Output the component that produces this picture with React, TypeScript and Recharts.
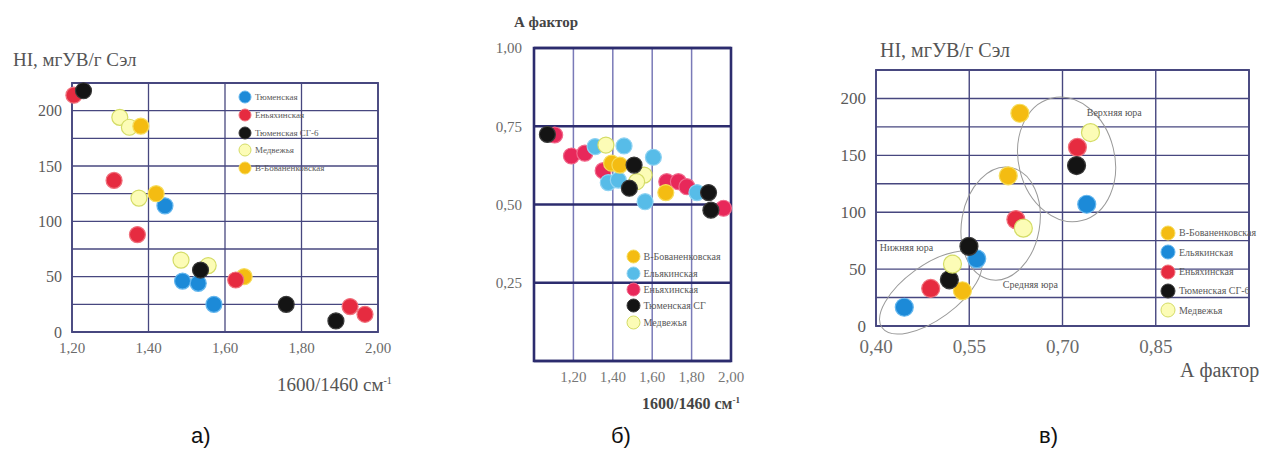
import React from "react";
import {
  ScatterChart,
  Scatter,
  XAxis,
  YAxis,
  CartesianGrid,
  ReferenceArea,
  ReferenceDot,
} from "recharts";

// ─── Data: chart а) HI vs 1600/1460 ─────────────

const aTicksX = [1.2, 1.4, 1.6, 1.8, 2.0];
const aTicksY = [0, 25, 50, 75, 100, 125, 150, 175, 200, 225];

const aBlue = [
  { x: 1.443, y: 114 },
  { x: 1.489, y: 46 },
  { x: 1.53, y: 44 },
  { x: 1.571, y: 25 },
];
const aRed = [
  { x: 1.205, y: 214 },
  { x: 1.31, y: 137 },
  { x: 1.371, y: 88 },
  { x: 1.628, y: 47 },
  { x: 1.927, y: 23 },
  { x: 1.966, y: 16 },
];
const aBlack = [
  { x: 1.23, y: 218 },
  { x: 1.536, y: 56 },
  { x: 1.76, y: 25 },
  { x: 1.89, y: 10 },
];
const aPale = [
  { x: 1.325, y: 194 },
  { x: 1.35, y: 185 },
  { x: 1.375, y: 121 },
  { x: 1.485, y: 65 },
  { x: 1.556, y: 60 },
];
const aGold = [
  { x: 1.38, y: 186 },
  { x: 1.42, y: 125 },
  { x: 1.65, y: 50 },
];

// ─── Data: chart б) A factor vs 1600/1460 ──────

const bTicksX = [1.0, 1.2, 1.4, 1.6, 1.8, 2.0];
const bTicksY = [0, 0.25, 0.5, 0.75, 1.0];

const bGold = [
  { x: 1.394, y: 0.632 },
  { x: 1.436, y: 0.626 },
  { x: 1.669, y: 0.538 },
];
const bBlue = [
  { x: 1.31, y: 0.685 },
  { x: 1.457, y: 0.687 },
  { x: 1.377, y: 0.57 },
  { x: 1.428, y: 0.578 },
  { x: 1.606, y: 0.651 },
  { x: 1.564, y: 0.509 },
  { x: 1.827, y: 0.538 },
];
const bRed = [
  { x: 1.105, y: 0.722 },
  { x: 1.19, y: 0.655 },
  { x: 1.258, y: 0.664 },
  { x: 1.351, y: 0.608 },
  { x: 1.674, y: 0.573 },
  { x: 1.733, y: 0.573 },
  { x: 1.776, y: 0.557 },
  { x: 1.962, y: 0.488 },
];
const bBlack = [
  { x: 1.068, y: 0.724 },
  { x: 1.508, y: 0.626 },
  { x: 1.484, y: 0.552 },
  { x: 1.886, y: 0.538 },
  { x: 1.898, y: 0.482 },
];
const bPale = [
  { x: 1.365, y: 0.69 },
  { x: 1.559, y: 0.594 },
  { x: 1.521, y: 0.573 },
];

// ─── Data: chart в) HI vs A factor ──────────────

const cTicksX = [0.4, 0.55, 0.7, 0.85, 1.0];
const cTicksY = [0, 25, 50, 75, 100, 125, 150, 175, 200, 225];

const cGold = [
  { x: 0.6315, y: 187 },
  { x: 0.6127, y: 132 },
  { x: 0.539, y: 31 },
];
const cBlue = [
  { x: 0.739, y: 107 },
  { x: 0.562, y: 59 },
  { x: 0.4455, y: 16.5 },
];
const cRed = [
  { x: 0.724, y: 157 },
  { x: 0.625, y: 93.5 },
  { x: 0.488, y: 33 },
];
const cBlack = [
  { x: 0.7226, y: 141 },
  { x: 0.5495, y: 70 },
  { x: 0.518, y: 40.6 },
];
const cPale = [
  { x: 0.745, y: 170 },
  { x: 0.637, y: 86 },
  { x: 0.523, y: 54.4 },
];

// groups outlined on chart в)
const cGroups = [
  { name: "Нижняя юра", x: 0.488, y: 29.4, labelX: 0.406, labelY: 69 },
  { name: "Средняя юра", x: 0.6005, y: 90, labelX: 0.604, labelY: 37 },
  { name: "Верхняя юра", x: 0.7066, y: 146.4, labelX: 0.739, labelY: 188 },
];

// ─── Styling ─────────────────────────────────────

const SERIF = '"Liberation Serif", "Times New Roman", serif';
const SANS = '"Liberation Sans", Arial, sans-serif';
const GRID = "#47477f";

const C = {
  blue: { fill: "#1c8ad8", stroke: "#63b6ee" },
  red: { fill: "#e62b40", stroke: "#f0707c" },
  black: { fill: "#141414", stroke: "#3a3a3a" },
  pale: { fill: "#fcfcb6", stroke: "#d4dc66" },
  gold: { fill: "#f4bc12", stroke: "#f6dc5a" },
  skyBlue: { fill: "#57bce8", stroke: "#8ed2f2" },
  pink: { fill: "#e8285a", stroke: "#f06a8c" },
};

const ellipseShape = [
  { rx: 60, ry: 27, rot: -36 },
  { rx: 39, ry: 57, rot: 10 },
  { rx: 48, ry: 63, rot: -14 },
];

const comma = (d: number) => (v: number) => v.toFixed(d).replace(".", ",");

function dot(color: { fill: string; stroke: string }, r: number) {
  return (p: any) => (
    <circle
      cx={p.cx}
      cy={p.cy}
      r={r}
      fill={color.fill}
      stroke={color.stroke}
      strokeWidth={1.2}
    />
  );
}

// ─── Legend overlay ──────────────────────────────

function MiniLegend({
  items,
  cx,
  cy,
  step,
  r,
  fontSize,
}: {
  items: { label: string; color: { fill: string; stroke: string } }[];
  cx: number;
  cy: number;
  step: number;
  r: number;
  fontSize: number;
}) {
  return (
    <div style={{ position: "absolute", left: cx - r - 1, top: cy - step / 2 }}>
      {items.map((it) => (
        <div
          key={it.label}
          style={{ display: "flex", alignItems: "center", height: step }}
        >
          <svg width={2 * r + 2} height={2 * r + 2}>
            <circle
              cx={r + 1}
              cy={r + 1}
              r={r}
              fill={it.color.fill}
              stroke={it.color.stroke}
              strokeWidth={1}
            />
          </svg>
          <span
            style={{
              fontFamily: SERIF,
              fontSize,
              color: "#5a5a5a",
              marginLeft: 3,
              whiteSpace: "nowrap",
            }}
          >
            {it.label}
          </span>
        </div>
      ))}
    </div>
  );
}

function Text({
  children,
  left,
  top,
  size,
  bold,
  color = "#555",
  family = SERIF,
}: {
  children: React.ReactNode;
  left: number;
  top: number;
  size: number;
  bold?: boolean;
  color?: string;
  family?: string;
}) {
  return (
    <div
      style={{
        position: "absolute",
        left,
        top,
        fontFamily: family,
        fontSize: size,
        fontWeight: bold ? 700 : 400,
        color,
        lineHeight: 1,
        whiteSpace: "nowrap",
      }}
    >
      {children}
    </div>
  );
}

// ─── Charts ──────────────────────────────────────

function ChartA() {
  return (
    <div style={{ position: "absolute", left: 0, top: 0 }}>
      <ScatterChart
        width={420}
        height={453}
        margin={{ top: 83, right: 42, left: 32, bottom: 91 }}
      >
        <CartesianGrid stroke={GRID} strokeWidth={1.3} />
        <XAxis
          type="number"
          dataKey="x"
          domain={[1.2, 2.0]}
          ticks={aTicksX}
          tickFormatter={comma(2)}
          axisLine={false}
          tickLine={false}
          tickMargin={4}
          height={30}
          tick={{ fontFamily: SERIF, fontSize: 15, fill: "#6a6a6a" }}
        />
        <YAxis
          type="number"
          dataKey="y"
          domain={[0, 225]}
          ticks={aTicksY}
          tickFormatter={(v: number) => (v % 50 === 0 && v <= 200 ? String(v) : "")}
          axisLine={false}
          tickLine={false}
          tickMargin={4}
          width={40}
          interval={0}
          tick={{ fontFamily: SERIF, fontSize: 16, fill: "#5a5a5a" }}
        />
        <ReferenceArea
          x1={1.2}
          x2={2.0}
          y1={0}
          y2={225}
          fill="none"
          stroke={GRID}
          strokeWidth={1.8}
          ifOverflow="visible"
        />
        <Scatter data={aBlue} shape={dot(C.blue, 8)} isAnimationActive={false} />
        <Scatter data={aPale} shape={dot(C.pale, 8)} isAnimationActive={false} />
        <Scatter data={aGold} shape={dot(C.gold, 8)} isAnimationActive={false} />
        <Scatter data={aRed} shape={dot(C.red, 8)} isAnimationActive={false} />
        <Scatter data={aBlack} shape={dot(C.black, 8)} isAnimationActive={false} />
      </ScatterChart>
    </div>
  );
}

function ChartB() {
  return (
    <div style={{ position: "absolute", left: 420, top: 0 }}>
      <ScatterChart
        width={420}
        height={453}
        margin={{ top: 48, right: 109, left: 74, bottom: 62 }}
      >
        <CartesianGrid horizontal={false} stroke="#7a7ab8" strokeWidth={1.5} />
        <CartesianGrid vertical={false} stroke="#2c2c6e" strokeWidth={2.6} />
        <XAxis
          type="number"
          dataKey="x"
          domain={[1.0, 2.0]}
          ticks={bTicksX}
          tickFormatter={(v: number) => (v === 1 ? "" : comma(2)(v))}
          axisLine={false}
          tickLine={false}
          tickMargin={4}
          height={30}
          interval={0}
          tick={{ fontFamily: SERIF, fontSize: 15, fill: "#777" }}
        />
        <YAxis
          type="number"
          dataKey="y"
          domain={[0, 1]}
          ticks={bTicksY}
          tickFormatter={(v: number) => (v === 0 ? "" : comma(2)(v))}
          axisLine={false}
          tickLine={false}
          tickMargin={6}
          width={40}
          interval={0}
          tick={{ fontFamily: SERIF, fontSize: 15, fill: "#6a6a6a" }}
        />
        <ReferenceArea
          x1={1.0}
          x2={2.0}
          y1={0}
          y2={1}
          fill="none"
          stroke="#2c2c6e"
          strokeWidth={2.6}
          ifOverflow="visible"
        />
        <Scatter data={bRed} shape={dot(C.pink, 8)} isAnimationActive={false} />
        <Scatter data={bBlue} shape={dot(C.skyBlue, 8)} isAnimationActive={false} />
        <Scatter data={bGold} shape={dot(C.gold, 8)} isAnimationActive={false} />
        <Scatter data={bPale} shape={dot(C.pale, 8)} isAnimationActive={false} />
        <Scatter data={bBlack} shape={dot(C.black, 8)} isAnimationActive={false} />
      </ScatterChart>
    </div>
  );
}

function ChartC() {
  return (
    <div style={{ position: "absolute", left: 840, top: 0 }}>
      <ScatterChart
        width={426}
        height={453}
        margin={{ top: 70, right: 17, left: 0, bottom: 97 }}
      >
        <CartesianGrid stroke={GRID} strokeWidth={1.4} />
        <XAxis
          type="number"
          dataKey="x"
          domain={[0.4, 1.0]}
          ticks={cTicksX}
          tickFormatter={(v: number) => (v === 1 ? "" : comma(2)(v))}
          axisLine={false}
          tickLine={false}
          tickMargin={8}
          height={30}
          interval={0}
          tick={{ fontFamily: SERIF, fontSize: 19, fill: "#6a6a6a" }}
        />
        <YAxis
          type="number"
          dataKey="y"
          domain={[0, 225]}
          ticks={cTicksY}
          tickFormatter={(v: number) => (v % 50 === 0 && v <= 200 ? String(v) : "")}
          axisLine={false}
          tickLine={false}
          tickMargin={4}
          width={36}
          interval={0}
          tick={{ fontFamily: SERIF, fontSize: 17, fill: "#5a5a5a" }}
        />
        <ReferenceArea
          x1={0.4}
          x2={1.0}
          y1={0}
          y2={225}
          fill="none"
          stroke={GRID}
          strokeWidth={1.8}
          ifOverflow="visible"
        />
        {cGroups.map((g, i) => (
          <ReferenceDot
            key={g.name}
            x={g.x}
            y={g.y}
            r={0}
            ifOverflow="visible"
            shape={(p: any) => (
              <ellipse
                cx={p.cx}
                cy={p.cy}
                rx={ellipseShape[i].rx}
                ry={ellipseShape[i].ry}
                transform={`rotate(${ellipseShape[i].rot} ${p.cx} ${p.cy})`}
                fill="none"
                stroke="#9a9a9a"
                strokeWidth={1}
              />
            )}
          />
        ))}
        {cGroups.map((g) => (
          <ReferenceDot
            key={g.name + "-label"}
            x={g.labelX}
            y={g.labelY}
            r={0}
            ifOverflow="visible"
            shape={(p: any) => (
              <text
                x={p.cx}
                y={p.cy}
                dy={4}
                fontFamily={SERIF}
                fontSize={10}
                fill="#555"
              >
                {g.name}
              </text>
            )}
          />
        ))}
        <Scatter data={cGold} shape={dot(C.gold, 9)} isAnimationActive={false} />
        <Scatter data={cBlue} shape={dot(C.blue, 9)} isAnimationActive={false} />
        <Scatter data={cRed} shape={dot(C.red, 9)} isAnimationActive={false} />
        <Scatter data={cBlack} shape={dot(C.black, 9)} isAnimationActive={false} />
        <Scatter data={cPale} shape={dot(C.pale, 9)} isAnimationActive={false} />
      </ScatterChart>
    </div>
  );
}

// ─── Page ────────────────────────────────────────

export default function App() {
  return (
    <div
      style={{
        position: "fixed",
        left: 0,
        top: 0,
        width: 1266,
        height: 453,
        background: "#fff",
        overflow: "hidden",
      }}
    >
      <ChartA />
      <ChartB />
      <ChartC />

      <MiniLegend
        cx={245}
        cy={97}
        step={17.8}
        r={6}
        fontSize={9}
        items={[
          { label: "Тюменская", color: C.blue },
          { label: "Еньяхинская", color: C.red },
          { label: "Тюменская СГ-6", color: C.black },
          { label: "Медвежья", color: C.pale },
          { label: "В-Бованенковская", color: C.gold },
        ]}
      />
      <MiniLegend
        cx={633}
        cy={257}
        step={16.3}
        r={6.5}
        fontSize={10}
        items={[
          { label: "В-Бованенковская", color: C.gold },
          { label: "Ельякинская", color: C.skyBlue },
          { label: "Еньяхинская", color: C.pink },
          { label: "Тюменская СГ", color: C.black },
          { label: "Медвежья", color: C.pale },
        ]}
      />
      <MiniLegend
        cx={1168}
        cy={233}
        step={19.3}
        r={7}
        fontSize={10}
        items={[
          { label: "В-Бованенковская", color: C.gold },
          { label: "Ельякинская", color: C.blue },
          { label: "Еньяхинская", color: C.red },
          { label: "Тюменская СГ-6", color: C.black },
          { label: "Медвежья", color: C.pale },
        ]}
      />

      <Text left={13} top={50} size={19}>HI, мгУВ/г Сэл</Text>
      <Text left={277} top={375} size={19}>
        1600/1460 см<sup style={{ fontSize: 10 }}>-1</sup>
      </Text>
      <Text left={514} top={15} size={15} bold color="#444">А фактор</Text>
      <Text left={642} top={396} size={16} bold color="#444">
        1600/1460 см<sup style={{ fontSize: 9 }}>-1</sup>
      </Text>
      <Text left={880} top={40} size={20}>HI, мгУВ/г Сэл</Text>
      <Text left={1180} top={360} size={20}>А фактор</Text>

      <Text left={191} top={425} size={22} color="#111" family={SANS}>а)</Text>
      <Text left={611} top={425} size={22} color="#111" family={SANS}>б)</Text>
      <Text left={1039} top={425} size={22} color="#111" family={SANS}>в)</Text>
    </div>
  );
}
